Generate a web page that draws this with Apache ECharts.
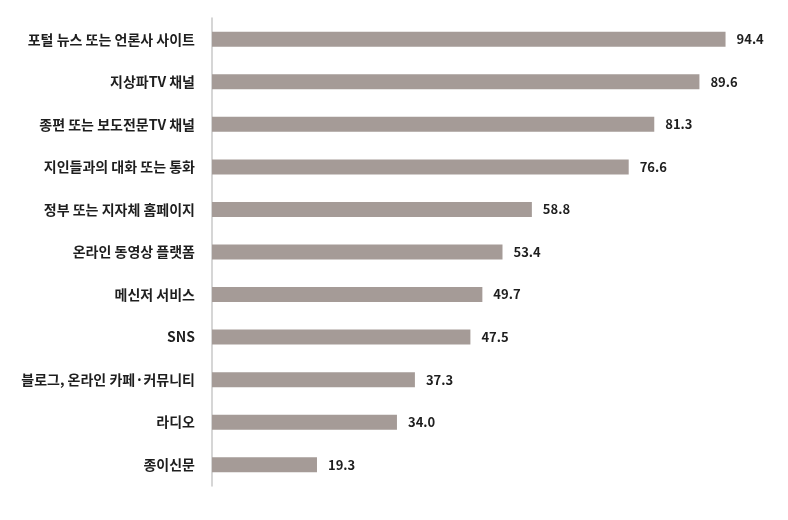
<!DOCTYPE html>
<html>
<head>
<meta charset="utf-8">
<script src="https://cdn.jsdelivr.net/npm/echarts@6/dist/echarts.min.js"></script>
<style>
  html, body { margin: 0; padding: 0; background: #fff; }
  #chart { width: 788px; height: 520px; }
</style>
</head>
<body>
<div id="chart"></div>
<script>
var categories = ['포털 뉴스 또는 언론사 사이트', '지상파TV 채널', '종편 또는 보도전문TV 채널', '지인들과의 대화 또는 통화',
  '정부 또는 지자체 홈페이지', '온라인 동영상 플랫폼', '메신저 서비스', 'SNS', '블로그, 온라인 카페·커뮤니티', '라디오', '종이신문'];
var values = [94.4, 89.6, 81.3, 76.6, 58.8, 53.4, 49.7, 47.5, 37.3, 34.0, 19.3];

var myChart = echarts.init(document.getElementById('chart'));
var option = {
  animation: false,
  grid: { left: 212, right: 32, top: 18, bottom: 34 },
  xAxis: {
    type: 'value',
    min: 0,
    max: 100,
    show: false
  },
  yAxis: {
    type: 'category',
    data: categories,
    inverse: true,
    axisLine: { show: true, lineStyle: { color: '#c8c8c8', width: 1.5 } },
    axisTick: { show: false },
    axisLabel: {
      margin: 17,
      color: '#1e1e1e',
      fontSize: 14,
      fontWeight: 'bold',
      fontFamily: 'Noto Sans CJK KR'
    }
  },
  series: [{
    type: 'bar',
    data: values,
    barWidth: 15,
    itemStyle: { color: '#a59b97' },
    label: {
      show: true,
      position: 'right',
      distance: 11,
      color: '#1e1e1e',
      fontSize: 13,
      fontWeight: 'bold',
      fontFamily: 'Noto Sans CJK KR',
      formatter: function (p) { return p.value.toFixed(1); }
    }
  }]
};
myChart.setOption(option);
window.addEventListener('resize', function () { myChart.resize(); });
</script>
</body>
</html>
